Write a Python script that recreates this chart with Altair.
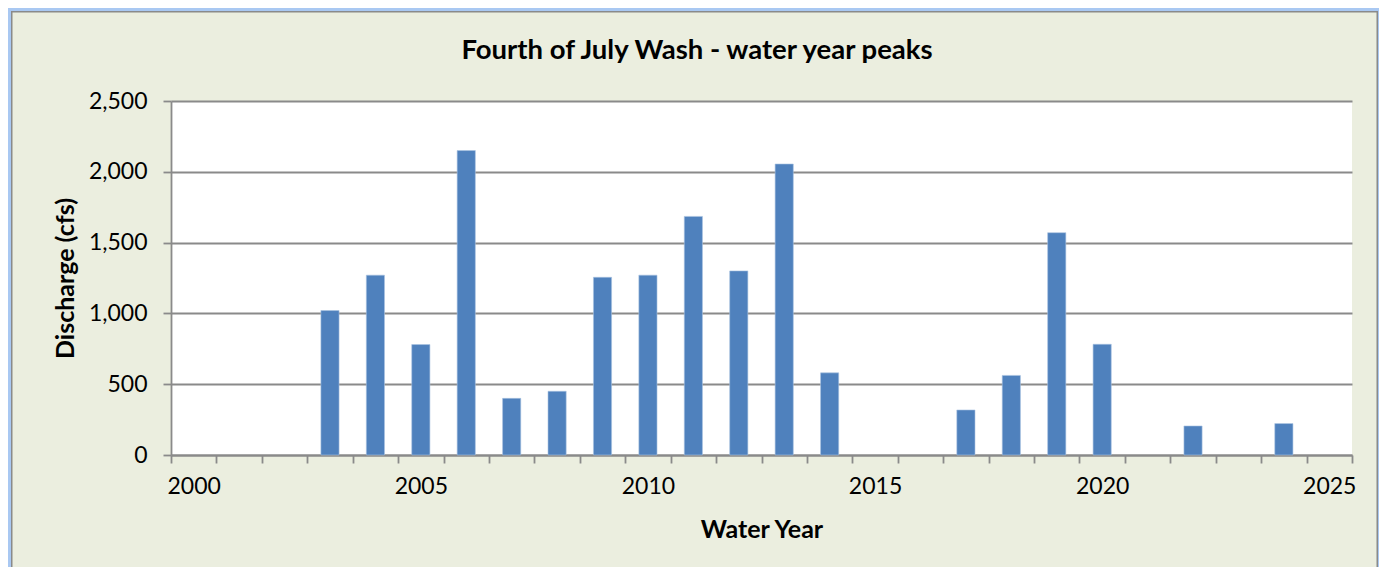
import altair as alt
import pandas as pd

title_text = "Fourth of July Wash - water year peaks"
years = list(range(2000, 2026))
peak_years = [2003, 2004, 2005, 2006, 2007, 2008, 2009, 2010, 2011, 2012, 2013, 2014,
              2017, 2018, 2019, 2020, 2022, 2024]
peaks = [1020, 1270, 780, 2150, 400, 450, 1255, 1270, 1685, 1300, 2055, 580,
         318, 562, 1570, 782, 205, 222]
y_ticks = [0, 500, 1000, 1500, 2000, 2500]

df = pd.DataFrame({"year": peak_years, "peak": peaks})
one_row = pd.DataFrame({"k": [0]})

FONT = "Lato"
BG = "#EBEEDF"
GRID = "#8A8A8A"

bars = alt.Chart(df).mark_bar(color="#4F81BD", stroke="#A9C2E0", strokeWidth=0.6,
                              width=alt.RelativeBandSize(0.4)).encode(
    x=alt.X("year:O",
            scale=alt.Scale(domain=years, paddingInner=0, paddingOuter=0),
            axis=alt.Axis(title="Water Year", labelAngle=0, tickBand="extent",
                          labelExpr="datum.value % 5 == 0 ? datum.label : ''",
                          grid=False, titlePadding=19, labelPadding=12)),
    y=alt.Y("peak:Q",
            scale=alt.Scale(domain=[0, 2500], nice=False),
            axis=alt.Axis(title="Discharge (cfs)", values=y_ticks, format=",.0f",
                          grid=True, labelPadding=16, titleX=-106, titleBaseline="middle")),
)

frame = alt.Chart(one_row).mark_rect(fill=None, stroke="#8A8A8A", strokeWidth=2).encode(
    x=alt.value(-159.5), x2=alt.value(1206.5), y=alt.value(-89.5), y2=alt.value(520)
)
glow = alt.Chart(one_row).mark_rect(fill=None, stroke="#A9C8F2", strokeWidth=3).encode(
    x=alt.value(-161.5), x2=alt.value(1208.5), y=alt.value(-91.5), y2=alt.value(525)
)
title = alt.Chart(one_row).mark_text(font=FONT, fontSize=27.5, fontWeight="bold", color="#000000",
                                     align="center", baseline="alphabetic").encode(
    x=alt.value(526), y=alt.value(-42.5), text=alt.value(title_text)
)

chart = alt.layer(bars, frame, glow, title).properties(
    width=1181, height=354,
    autosize=alt.AutoSizeParams(type="none"),
    padding={"left": 163, "top": 93, "right": 27, "bottom": 112},
).configure(background=BG).configure_view(
    fill="white", stroke=None
).configure_axis(
    labelFont=FONT, labelFontSize=23, labelColor="#000000",
    titleFont=FONT, titleFontSize=25, titleFontWeight="bold", titleColor="#000000",
    domainColor=GRID, domainWidth=1.8, tickColor=GRID, tickWidth=1.8, tickSize=8,
    gridColor=GRID, gridWidth=1.8,
)

chart.save("out.html", embed_options={"renderer": "svg", "actions": False})
